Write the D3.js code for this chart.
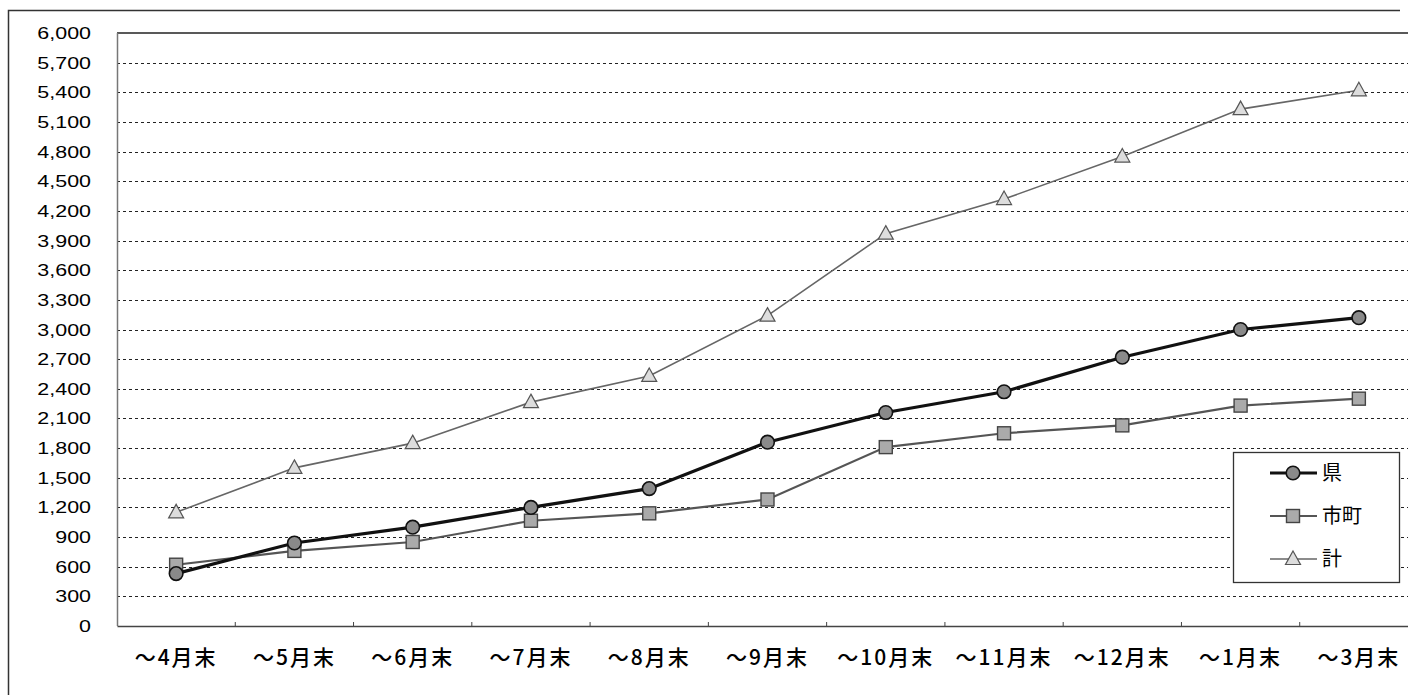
<!DOCTYPE html>
<html>
<head>
<meta charset="utf-8">
<script src="https://cdn.jsdelivr.net/npm/d3@7"></script>
<style>
  html, body { margin: 0; padding: 0; background: #fff; }
  svg { display: block; }
</style>
</head>
<body>
<svg id="chart" width="1408" height="695"></svg>
<script>
// Cumulative counts by month end
const categories = ["～4月末", "～5月末", "～6月末", "～7月末", "～8月末", "～9月末", "～10月末", "～11月末", "～12月末", "～1月末", "～3月末"];
const kenValues   = [530, 840, 1000, 1200, 1390, 1860, 2160, 2370, 2720, 3000, 3120];
const shichoValues = [620, 760, 850, 1065, 1140, 1280, 1810, 1950, 2030, 2230, 2300];
const totalValues = [1150, 1600, 1850, 2265, 2530, 3140, 3970, 4320, 4750, 5230, 5420];
const yTicks = [0, 300, 600, 900, 1200, 1500, 1800, 2100, 2400, 2700, 3000, 3300, 3600, 3900, 4200, 4500, 4800, 5100, 5400, 5700, 6000];
const seriesNames = ["県", "市町", "計"];

const svg = d3.select("#chart");
const plotLeft = 117, plotRight = 1418, plotTop = 33, plotBottom = 626;

const x = d3.scaleBand().domain(categories).range([plotLeft, plotRight]).padding(0);
const y = d3.scaleLinear().domain([0, 6000]).range([plotBottom, plotTop]);
const cx = d => x(d) + x.bandwidth() / 2;

// outer frame
svg.append("path")
  .attr("d", `M8.5,695 V10.5 H1400`)
  .attr("fill", "none").attr("stroke", "#333").attr("stroke-width", 1.5);

// dashed gridlines
svg.append("g").selectAll("line")
  .data(yTicks.filter(v => v > 0 && v < 6000))
  .join("line")
  .attr("x1", plotLeft).attr("x2", plotRight)
  .attr("y1", d => Math.round(y(d)) + 0.5).attr("y2", d => Math.round(y(d)) + 0.5)
  .attr("stroke", "#222").attr("stroke-width", 1.2)
  .attr("stroke-dasharray", "3,3");

// plot top border
svg.append("line")
  .attr("x1", plotLeft).attr("x2", plotRight)
  .attr("y1", y(6000)).attr("y2", y(6000))
  .attr("stroke", "#222").attr("stroke-width", 1.5);

// y axis line
svg.append("line")
  .attr("x1", plotLeft + 0.5).attr("x2", plotLeft + 0.5)
  .attr("y1", plotTop).attr("y2", plotBottom)
  .attr("stroke", "#777").attr("stroke-width", 1.5);

// x axis
const xAxis = svg.append("g")
  .attr("transform", `translate(0,${plotBottom})`)
  .call(d3.axisBottom(x).tickSize(0).tickPadding(24));
xAxis.select(".domain").attr("stroke", "#444").attr("stroke-width", 1.5);
xAxis.selectAll("text")
  .attr("font-family", "'Noto Sans CJK JP', sans-serif")
  .attr("font-size", 21)
  .attr("font-weight", 500)
  .attr("letter-spacing", 2)
  .attr("fill", "#000");

// category boundary ticks
svg.append("g").selectAll("line")
  .data(categories.slice(1))
  .join("line")
  .attr("x1", d => x(d)).attr("x2", d => x(d))
  .attr("y1", plotBottom - 4).attr("y2", plotBottom)
  .attr("stroke", "#444").attr("stroke-width", 1);

// y tick labels
svg.append("g").selectAll("text")
  .data(yTicks)
  .join("text")
  .attr("transform", d => `translate(91,${y(d) + 6}) scale(1.3,1)`)
  .attr("text-anchor", "end")
  .attr("font-family", "'Liberation Sans', Arial, sans-serif")
  .attr("font-size", 16.5)
  .attr("fill", "#000")
  .text(d3.format(","));

const line = d3.line().x((d, i) => cx(categories[i])).y(d => y(d));

const series = [
  { name: seriesNames[0], values: kenValues, stroke: "#111", width: 3.2, marker: "circle" },
  { name: seriesNames[1], values: shichoValues, stroke: "#555", width: 2.2, marker: "square" },
  { name: seriesNames[2], values: totalValues, stroke: "#666", width: 1.6, marker: "triangle" }
];

function drawMarker(g, type, px, py) {
  if (type === "circle") {
    g.append("circle").attr("cx", px).attr("cy", py).attr("r", 6.8)
      .attr("fill", "#8a8a8a").attr("stroke", "#111").attr("stroke-width", 1.6);
  } else if (type === "square") {
    g.append("rect").attr("x", px - 6.5).attr("y", py - 6.5).attr("width", 13).attr("height", 13)
      .attr("fill", "#aaa").attr("stroke", "#444").attr("stroke-width", 1.4);
  } else {
    g.append("path")
      .attr("d", `M${px},${py - 8} L${px + 7.5},${py + 5.5} L${px - 7.5},${py + 5.5} Z`)
      .attr("fill", "#ddd").attr("stroke", "#555").attr("stroke-width", 1.2);
  }
}

// draw total first so the others sit on top
[series[2], series[1], series[0]].forEach(s => {
  const g = svg.append("g");
  g.append("path")
    .attr("d", line(s.values))
    .attr("fill", "none").attr("stroke", s.stroke).attr("stroke-width", s.width);
  s.values.forEach((v, i) => drawMarker(g, s.marker, cx(categories[i]), y(v)));
});

// legend
const lg = svg.append("g");
lg.append("rect").attr("x", 1233.5).attr("y", 452.5).attr("width", 166).attr("height", 130)
  .attr("fill", "#fff").attr("stroke", "#333").attr("stroke-width", 1.3);
series.forEach((s, i) => {
  const ly = 473 + i * 43;
  lg.append("line").attr("x1", 1270).attr("x2", 1317).attr("y1", ly).attr("y2", ly)
    .attr("stroke", s.stroke).attr("stroke-width", s.width);
  drawMarker(lg, s.marker, 1293, ly);
  lg.append("text").attr("x", 1322).attr("y", ly + 7)
    .attr("font-family", "'Noto Sans CJK JP', sans-serif")
    .attr("font-size", 20).attr("fill", "#000")
    .text(s.name);
});
</script>
</body>
</html>
